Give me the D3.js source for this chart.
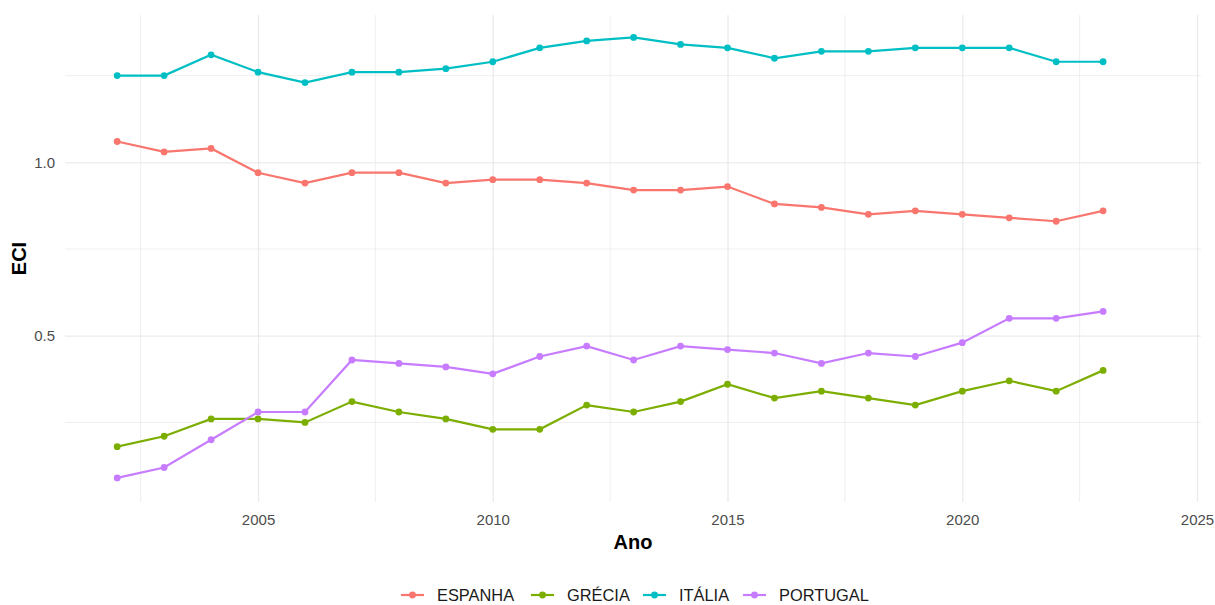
<!DOCTYPE html>
<html>
<head>
<meta charset="utf-8">
<script src="https://cdn.jsdelivr.net/npm/d3@7"></script>
<style>
  body { margin: 0; background: #fff; }
  svg { display: block; font-family: "Liberation Sans", Arial, sans-serif; }
</style>
</head>
<body>
<svg class="eciChart" width="1215" height="605"></svg>
<script>
// data
const years = [2002,2003,2004,2005,2006,2007,2008,2009,2010,2011,2012,2013,2014,2015,2016,2017,2018,2019,2020,2021,2022,2023];
const countries = ["ESPANHA","GRÉCIA","ITÁLIA","PORTUGAL"];
const espanha  = [1.06,1.03,1.04,0.97,0.94,0.97,0.97,0.94,0.95,0.95,0.94,0.92,0.92,0.93,0.88,0.87,0.85,0.86,0.85,0.84,0.83,0.86];
const grecia   = [0.18,0.21,0.26,0.26,0.25,0.31,0.28,0.26,0.23,0.23,0.30,0.28,0.31,0.36,0.32,0.34,0.32,0.30,0.34,0.37,0.34,0.40];
const italia   = [1.25,1.25,1.31,1.26,1.23,1.26,1.26,1.27,1.29,1.33,1.35,1.36,1.34,1.33,1.30,1.32,1.32,1.33,1.33,1.33,1.29,1.29];
const portugal = [0.09,0.12,0.20,0.28,0.28,0.43,0.42,0.41,0.39,0.44,0.47,0.43,0.47,0.46,0.45,0.42,0.45,0.44,0.48,0.55,0.55,0.57];
const xTicks = [2005,2010,2015,2020,2025];
const yTicks = [0.5,1.0];
const xMinor = [2002.5,2007.5,2012.5,2017.5,2022.5];
const yMinor = [0.25,0.75,1.25];

const series = [espanha, grecia, italia, portugal];
const colors = ["#F8766D","#7CAE00","#00BFC4","#C77CFF"];

const svg = d3.select(".eciChart");

// panel area
const panel = {left: 65, right: 1201, top: 15, bottom: 502};

const xScale = d3.scaleLinear()
    .domain([2002, 2025])
    .range([117.2, 1197]);

const yScale = d3.scaleLinear()
    .domain([0.5, 1.0])
    .range([335.7, 162.3]);

const grid = svg.append("g");

// minor grid
grid.selectAll("line.xminor")
    .data(xMinor)
    .join("line")
    .attr("x1", d => xScale(d)).attr("x2", d => xScale(d))
    .attr("y1", panel.top).attr("y2", panel.bottom)
    .attr("stroke", "#ebebeb").attr("stroke-width", 0.8);

grid.selectAll("line.yminor")
    .data(yMinor)
    .join("line")
    .attr("x1", panel.left).attr("x2", panel.right)
    .attr("y1", d => yScale(d)).attr("y2", d => yScale(d))
    .attr("stroke", "#ebebeb").attr("stroke-width", 0.8);

// major grid + tick labels via axes
const xAxis = svg.append("g")
    .attr("transform", `translate(0,${panel.bottom})`)
    .call(d3.axisBottom(xScale).tickValues(xTicks).tickFormat(d3.format("d"))
        .tickSize(-(panel.bottom - panel.top)).tickPadding(12));

const yAxis = svg.append("g")
    .attr("transform", `translate(${panel.left},0)`)
    .call(d3.axisLeft(yScale).tickValues(yTicks).tickFormat(d3.format(".1f"))
        .tickSize(-(panel.right - panel.left)).tickPadding(10));

[xAxis, yAxis].forEach(ax => {
    ax.select(".domain").remove();
    ax.selectAll(".tick line").attr("stroke", "#ebebeb").attr("stroke-width", 1.3);
    ax.selectAll(".tick text")
        .attr("fill", "#4d4d4d")
        .style("font-size", "15px")
        .style("font-family", "Liberation Sans, Arial, sans-serif");
});

// lines and points
const line = d3.line()
    .x((d, i) => xScale(years[i]))
    .y(d => yScale(d));

series.forEach((vals, k) => {
    svg.append("path")
        .datum(vals)
        .attr("d", line)
        .attr("fill", "none")
        .attr("stroke", colors[k])
        .attr("stroke-width", 2.2);

    svg.selectAll("circle.s" + k)
        .data(vals)
        .join("circle")
        .attr("class", "s" + k)
        .attr("cx", (d, i) => xScale(years[i]))
        .attr("cy", d => yScale(d))
        .attr("r", 3.4)
        .attr("fill", colors[k]);
});

// axis titles
svg.append("text")
    .attr("x", (panel.left + panel.right) / 2)
    .attr("y", 549)
    .attr("text-anchor", "middle")
    .style("font-size", "20px").style("font-weight", "bold")
    .attr("fill", "#000")
    .text("Ano");

svg.append("text")
    .attr("transform", `translate(26,${(panel.top + panel.bottom) / 2}) rotate(-90)`)
    .attr("text-anchor", "middle")
    .style("font-size", "20px").style("font-weight", "bold")
    .attr("fill", "#000")
    .text("ECI");

// legend
const legendX = [401, 531, 643, 743];
const legend = svg.append("g");
const items = legend.selectAll("g")
    .data(countries)
    .join("g")
    .attr("transform", (d, i) => `translate(${legendX[i]},595)`);

items.append("line")
    .attr("x1", 0).attr("x2", 23)
    .attr("stroke", (d, i) => colors[i]).attr("stroke-width", 2.2);
items.append("circle")
    .attr("cx", 11.5).attr("r", 3.4)
    .attr("fill", (d, i) => colors[i]);
items.append("text")
    .attr("x", 36).attr("dy", "0.36em")
    .style("font-size", "16.4px")
    .attr("fill", "#1a1a1a")
    .text(d => d);
</script>
</body>
</html>
